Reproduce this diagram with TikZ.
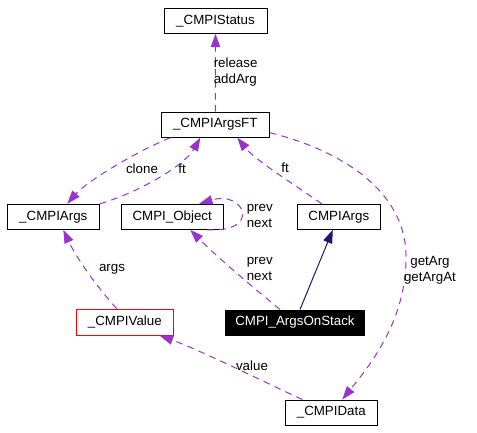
\documentclass[tikz,border=0pt]{standalone}
\usepackage{fontspec}
\setmainfont{Liberation Sans}
\usetikzlibrary{arrows.meta,calc}
\definecolor{edgepurple}{HTML}{9A32CD}
\definecolor{edgenavy}{HTML}{191970}
\definecolor{boxred}{HTML}{FF0000}
\begin{document}
\begin{tikzpicture}[x=0.75pt,y=-0.75pt,
  cls/.style={draw=black,line width=0.75pt,rectangle,inner sep=0pt,
    font=\fontsize{10}{12}\selectfont,text=black},
  sz/.style 2 args={minimum width=#1*0.75pt,minimum height=#2*0.75pt},
  lbl/.style={inner sep=0pt,font=\fontsize{10}{12}\selectfont,text=black},
  dep/.style={draw=edgepurple,line width=0.75pt,dash pattern=on 5pt off 4pt,
    -{Triangle[length=10pt,width=7pt,fill=edgepurple]}},
  inh/.style={draw=edgenavy,line width=0.75pt,
    -{Triangle[length=10pt,width=7pt,fill=edgenavy]}}]
\useasboundingbox (0,0) rectangle (477,432);
% nodes
\node[cls,sz={103}{25}] (status) at (215.5,20.8) {\_CMPIStatus};
\node[cls,sz={108}{25}] (argsft) at (215.3,124.7) {\_CMPIArgsFT};
\node[cls,sz={92}{25}] (cargs) at (53.3,216.8) {\_CMPIArgs};
\node[cls,sz={102}{25}] (obj) at (172.2,216.8) {CMPI\_Object};
\node[cls,sz={83}{25}] (args2) at (338.8,216.8) {CMPIArgs};
\node[cls,sz={97}{26},draw=boxred] (value) at (124.8,322.2) {\_CMPIValue};
\node[cls,sz={139}{25},fill=black,text=white] (stack) at (295,322.5) {CMPI\_ArgsOnStack};
\node[cls,sz={92}{25}] (data) at (331.3,412.5) {\_CMPIData};
% edges
\draw[dep] (argsft.north) -- (status.south);
\draw[dep] ($(argsft.south)+(-45,0)$) .. controls (135,152) and (85,183) .. ($(cargs.north)+(14,0)$);
\draw[dep] (cargs.north east) .. controls (140,192) and (185,165) .. ($(argsft.south)+(-15,0)$);
\draw[dep] ($(args2.north)+(-17,0)$) .. controls (295,185) and (255,160) .. ($(argsft.south)+(22,0)$);
\draw[dep] ($(argsft.east)+(0,8)$) .. controls (340,150) and (405,190) .. (406,255)
  .. controls (407,320) and (370,365) .. ($(data.north)+(11,0)$);
\draw[dep] ($(obj.south)+(35,0)$) .. controls (262,233) and (245,190) .. ($(obj.north)+(27,0)$);
\draw[dep] ($(stack.north)+(-15,0)$) .. controls (250,285) and (215,255) .. ($(obj.south)+(18,0)$);
\draw[inh] ($(stack.north)+(5,0)$) -- ($(args2.south)+(-6,0)$);
\draw[dep] ($(value.north)+(-8,0)$) .. controls (95,285) and (75,255) .. ($(cargs.south)+(10,0)$);
\draw[dep] ($(data.north)+(-29,0)$) .. controls (260,380) and (200,350) .. ($(value.south)+(35,0)$);
% labels
\node[lbl,anchor=west,align=left] (l1) at (213.5,72) {release\\addArg};
\node[lbl] (l2) at (142,169) {clone};
\node[lbl] (l3) at (182,169) {ft};
\node[lbl] (l4) at (285,168) {ft};
\node[lbl,anchor=west,align=left] (l5) at (246.5,216) {prev\\next};
\node[lbl,anchor=west,align=left] (l6) at (246.5,269) {prev\\next};
\node[lbl] (l7) at (112,269) {args};
\node[lbl,align=center] (l8) at (430,270) {getArg\\getArgAt};
\node[lbl] (l9) at (252,366) {value};
\end{tikzpicture}
\end{document}
